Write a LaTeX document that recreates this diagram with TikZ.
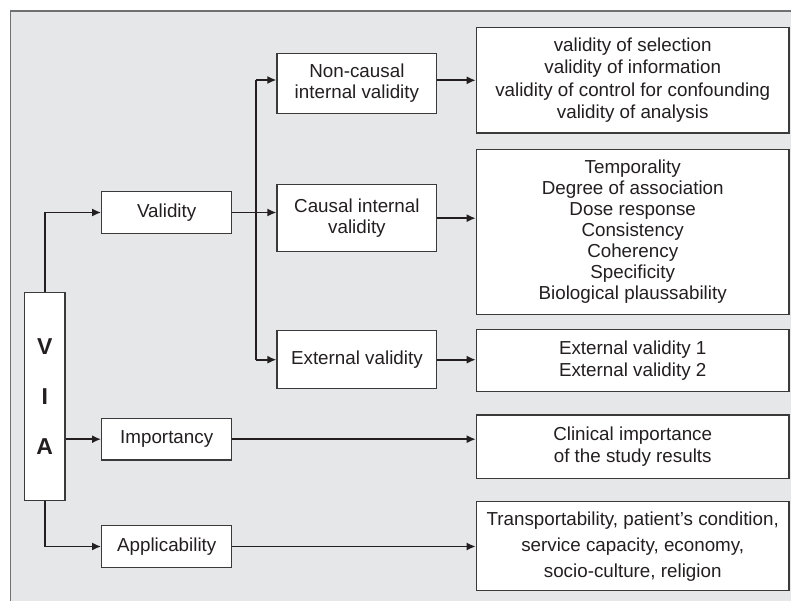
\documentclass[tikz,border=0pt]{standalone}
\usepackage{fontspec}
\setmainfont{Liberation Sans}
\usetikzlibrary{arrows.meta}
\definecolor{bgc}{HTML}{E6E7E8}
\definecolor{frm}{HTML}{707172}
\definecolor{ink}{HTML}{231F20}
\definecolor{edge}{HTML}{3A3A3B}
\tikzset{
  box/.style={draw=edge, line width=1.3pt, fill=white, rectangle, inner sep=0pt,
    align=center, text=ink, font=\fontsize{18.8}{21.5}\selectfont},
  arr/.style={draw=ink, line width=1.6pt, -{Latex[length=9pt,width=8pt]}},
  ln/.style={draw=ink, line width=1.6pt},
}
\begin{document}
\begin{tikzpicture}[x=1pt,y=-1pt]
\useasboundingbox (0,0) rectangle (791,601);
\fill[bgc] (10.5,11) rectangle (791,601);
\draw[frm, line width=1.2pt] (10.5,601) -- (10.5,11) -- (791,11);

% left column
\node[box, minimum width=40.5pt, minimum height=208.4pt,
  font=\fontsize{23}{50}\selectfont\bfseries] (via) at (44.8,396.5) {V\\I\\A};
\node[box, minimum width=130pt, minimum height=41.6pt] (val) at (166.7,212.5) {Validity};
\node[box, minimum width=130pt, minimum height=41.7pt] (imp) at (166.7,439.2) {Importancy};
\node[box, minimum width=130pt, minimum height=41.6pt] (app) at (166.7,546.5) {Applicability};

% middle column
\node[box, minimum width=159.7pt, minimum height=60pt] (nc) at (356.9,83.3) {Non-causal\\internal validity};
\node[box, minimum width=159.7pt, minimum height=67pt] (ci) at (356.9,218.2) {Causal internal\\validity};
\node[box, minimum width=159.7pt, minimum height=58pt] (ev) at (356.9,359.7) {External validity};

% right column
\node[box, minimum width=312.7pt, minimum height=105.3pt, font=\fontsize{18.8}{22.5}\selectfont] (r1) at (632.7,80.3)
  {\raisebox{0pt}[\height][\depth]{validity of selection}\\validity of information\\validity of control for confounding\\validity of analysis};
\node[box, minimum width=312.7pt, minimum height=164.6pt, font=\fontsize{18.8}{21}\selectfont] (r2) at (632.7,232)
  {Temporality\\Degree of association\\Dose response\\Consistency\\Coherency\\Specificity\\Biological plaussability};
\node[box, minimum width=312.7pt, minimum height=62.4pt, font=\fontsize{18.8}{22.3}\selectfont] (r3) at (632.7,360.5)
  {External validity 1\\External validity 2};
\node[box, minimum width=312.7pt, minimum height=63.3pt, font=\fontsize{18.8}{22}\selectfont] (r4) at (632.7,446.7)
  {Clinical importance\\of the study results};
\node[box, minimum width=312.7pt, minimum height=89pt, font=\fontsize{18.8}{26}\selectfont] (r5) at (632.7,546.2)
  {Transportability, patient’s condition,\\service capacity, economy,\\socio-culture, religion};

% connectors from VIA
\draw[arr] (via.north) |- (val.west);
\draw[arr] (via.east |- imp.west) -- (imp.west);
\draw[arr] (via.south) |- (app.west);

% validity branches
\coordinate (jt) at (256,80);
\coordinate (jb) at (256,359.7);
\draw[ln] (jt) -- (jb);
\draw[arr] (jt) -- (jt -| nc.west);
\draw[arr] (jb) -- (jb -| ev.west);
\draw[arr] (val.east) -- (val.east -| ci.west);

% to detail boxes
\draw[arr] (nc.east |- r1.west) -- (r1.west);
\draw[arr] (ci.east) -- (ci.east -| r2.west);
\draw[arr] (ev.east) -- (ev.east -| r3.west);
\draw[arr] (imp.east) -- (imp.east -| r4.west);
\draw[arr] (app.east) -- (app.east -| r5.west);
\end{tikzpicture}
\end{document}
